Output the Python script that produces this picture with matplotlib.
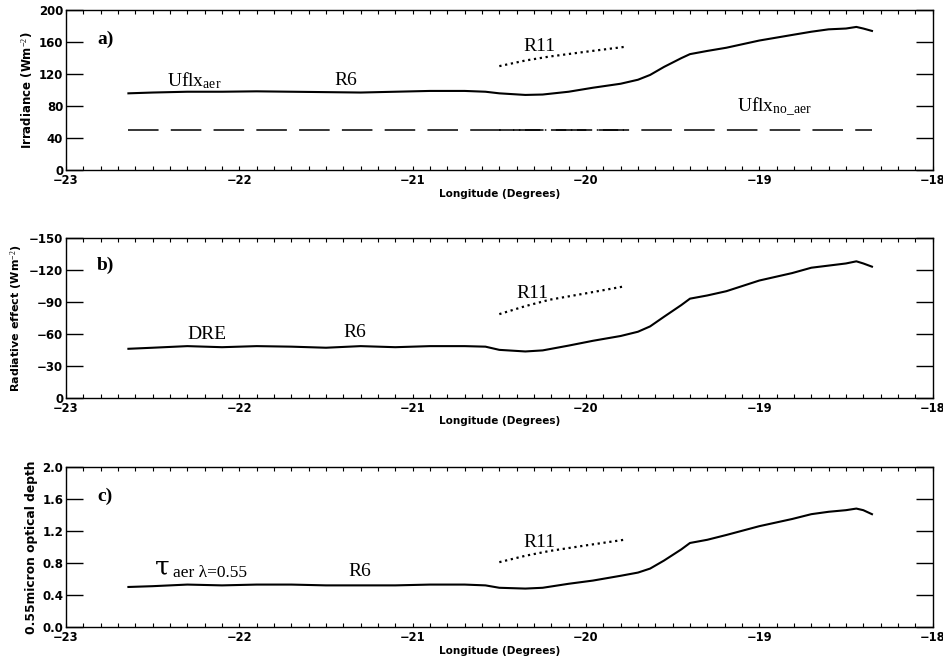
import numpy as np
import matplotlib
matplotlib.use('Agg')
import matplotlib.pyplot as plt
from matplotlib.ticker import MultipleLocator, FormatStrFormatter

#==============================================================================
# Data (R6 leg and R11 leg)
#==============================================================================
lon_r6 = [-22.64, -22.5, -22.3, -22.1, -21.9, -21.7, -21.5, -21.3, -21.1, -20.9,
          -20.7, -20.58, -20.5, -20.35, -20.25, -20.1, -19.96, -19.8, -19.7, -19.63,
          -19.55, -19.45, -19.4, -19.3, -19.19, -19.0, -18.81, -18.7, -18.6, -18.5,
          -18.44, -18.4, -18.35]
uflx_aer = [96, 97, 98, 98, 98.5, 98, 97.5, 97, 98, 99,
            99, 98, 96, 94, 94.5, 98, 103, 108, 113, 119,
            129, 140, 145, 149, 153, 162, 169, 173, 176, 177,
            179, 177, 174]
uflx_no_aer = [50] * len(lon_r6)
dre = [-46, -47, -48.5, -47.5, -48.5, -48, -47, -48.5, -47.5, -48.5,
       -48.5, -48, -45, -43.5, -44.5, -49, -53.5, -58, -62, -67,
       -76, -87, -93, -96, -100, -110, -117, -122, -124, -126,
       -128, -126, -123]
tau = [0.50, 0.51, 0.53, 0.52, 0.53, 0.53, 0.52, 0.52, 0.52, 0.53,
       0.53, 0.52, 0.49, 0.48, 0.49, 0.54, 0.58, 0.64, 0.68, 0.73,
       0.83, 0.97, 1.05, 1.09, 1.15, 1.26, 1.35, 1.41, 1.44, 1.46,
       1.48, 1.46, 1.41]

lon_r11 = [-20.5, -20.35, -20.21, -20.0, -19.78]
uflx_aer_r11 = [130, 137, 142, 148, 154]
uflx_no_aer_r11 = [50, 50, 50, 50, 50]
dre_r11 = [-78.5, -86, -92, -98, -104.5]
tau_r11 = [0.81, 0.89, 0.95, 1.02, 1.09]

#==============================================================================
# Style
#==============================================================================
plt.rcParams['mathtext.fontset'] = 'custom'
plt.rcParams['mathtext.rm'] = 'Liberation Serif'
plt.rcParams['mathtext.it'] = 'Liberation Serif:italic'
serif = dict(family='Liberation Serif', fontsize=14)

fig = plt.figure(figsize=(9.43, 6.62), dpi=100)
left, width, height = 0.070, 0.919, 0.2417
axa = fig.add_axes([left, 0.743, width, height])
axb = fig.add_axes([left, 0.399, width, height])
axc = fig.add_axes([left, 0.0529, width, height])

def style(ax, ylab, yticks, ylsize):
    ax.set_xlim(-23, -18)
    ax.xaxis.set_major_locator(MultipleLocator(1))
    ax.xaxis.set_minor_locator(MultipleLocator(0.1))
    ax.set_yticks(yticks)
    ax.tick_params(axis='x', which='both', direction='in', top=True, bottom=True,
                   length=3, width=0.8, labelsize=8.3, pad=3)
    ax.tick_params(axis='y', which='major', direction='in', left=True, right=True,
                   length=12, width=1.0, labelsize=8.5, pad=2)
    for s in ax.spines.values():
        s.set_linewidth(1.0)
    ax.set_xlabel('Longitude (Degrees)', fontsize=7.5, fontweight='bold', labelpad=1)
    ax.set_ylabel(ylab, fontsize=ylsize, fontweight='bold', labelpad=3)

# a) irradiance
axa.plot(lon_r6, uflx_aer, color='black', lw=1.5)
axa.plot(lon_r6, uflx_no_aer, color='black', lw=1.1, dashes=(20, 8))
axa.plot(lon_r11, uflx_aer_r11, color='black', lw=1.6, linestyle=':')
axa.plot(lon_r11, uflx_no_aer_r11, color='black', lw=1.1, dashes=(10, 3, 1, 3))
axa.set_ylim(0, 200)
style(axa, 'Irradiance (Wm$^{-2}$)', [0, 40, 80, 120, 160, 200], 8.5)
axa.text(-22.82, 158, 'a)', fontweight='bold', **serif)
axa.text(-22.42, 105, r'Uflx$_{\mathrm{aer}}$', **serif)
axa.text(-21.45, 106, 'R6', **serif)
axa.text(-20.36, 149, 'R11', **serif)
axa.text(-19.13, 72, r'Uflx$_{\mathrm{no\_aer}}$', **serif)

# b) radiative effect
axb.plot(lon_r6, dre, color='black', lw=1.5)
axb.plot(lon_r11, dre_r11, color='black', lw=1.6, linestyle=':')
axb.set_ylim(0, -150)
style(axb, 'Radiative effect (Wm$^{-2}$)', [0, -30, -60, -90, -120, -150], 8.0)
axb.text(-22.82, -120, 'b)', fontweight='bold', **serif)
axb.text(-22.3, -55, 'DRE', **serif)
axb.text(-21.4, -57, 'R6', **serif)
axb.text(-20.4, -94, 'R11', **serif)

# c) optical depth
axc.plot(lon_r6, tau, color='black', lw=1.5)
axc.plot(lon_r11, tau_r11, color='black', lw=1.6, linestyle=':')
axc.set_ylim(0, 2.0)
style(axc, '0.55micron optical depth', [0.0, 0.4, 0.8, 1.2, 1.6, 2.0], 8.8)
axc.yaxis.set_major_formatter(FormatStrFormatter('%.1f'))
axc.text(-22.82, 1.58, 'c)', fontweight='bold', **serif)
axc.text(-22.49, 0.66, 'τ', family='DejaVu Serif', fontsize=19)
axc.text(-22.385, 0.62, 'aer λ=0.55', family='Liberation Serif', fontsize=12.5)
axc.text(-21.37, 0.64, 'R6', **serif)
axc.text(-20.36, 1.0, 'R11', **serif)

for ax in (axa, axb, axc):
    for lab in ax.get_xticklabels() + ax.get_yticklabels():
        lab.set_fontweight('bold')

plt.savefig('out.png', dpi=100)
